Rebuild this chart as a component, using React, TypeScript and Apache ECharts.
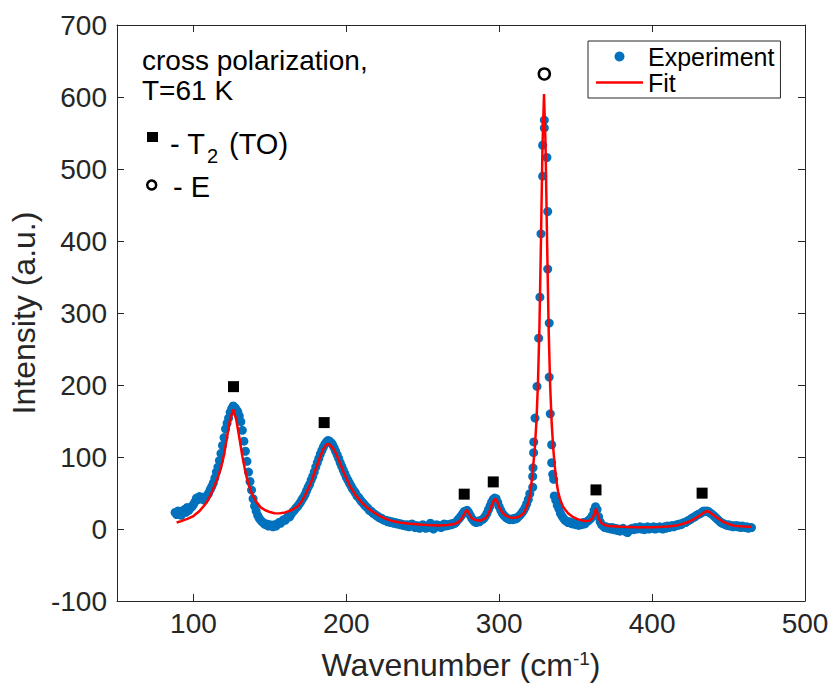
import React, { useEffect, useRef } from "react";
import * as echarts from "echarts";

// ---- axis ranges and ticks ----
const xMin = 50;
const xMax = 500;
const xTicks = [100, 200, 300, 400, 500];
const yMin = -100;
const yMax = 700;
const yStep = 100;

// ---- experimental points: uniform 1 cm-1 steps (segment A), explicit main-peak points, segment B ----
const expStartA = 88;
const expA = [
  23, 20, 25, 22, 19, 24, 27, 23, 30, 26, // 88-97
  29, 31, 34, 38, 43, 41, 45, 42, 44, 40, // 98-107
  43, 47, 50, 55, 59, 64, 71, 79, 86, 95, // 108-117
  105, 116, 127, 139, 147, 154, 162, 167, 171, 169, // 118-127
  166, 163, 157, 149, 137, 122, 108, 94, 79, 66, // 128-137
  54, 42, 32, 25, 19, 15, 12, 10, 8, 6, // 138-147
  7, 4, 6, 5, 3, 6, 4, 7, 9, 8, // 148-157
  11, 13, 12, 15, 18, 17, 21, 24, 26, 29, // 158-167
  31, 34, 37, 41, 44, 48, 53, 58, 62, 68, // 168-177
  73, 79, 86, 92, 98, 104, 109, 114, 118, 121, // 178-187
  123, 122, 120, 117, 113, 108, 103, 98, 92, 87, // 188-197
  82, 77, 72, 68, 64, 60, 56, 53, 50, 46, // 198-207
  44, 41, 38, 36, 33, 31, 29, 26, 25, 23, // 208-217
  21, 20, 18, 17, 15, 15, 13, 12, 12, 10, // 218-227
  11, 9, 10, 8, 9, 7, 8, 6, 7, 5, // 228-237
  6, 4, 6, 3, 5, 7, 4, 2, 5, 3, // 238-247
  1, 4, 6, 3, 1, 4, 2, 8, 3, 0, // 248-257
  4, 6, 3, 5, 2, 4, 7, 4, 6, 5, // 258-267
  7, 6, 8, 8, 10, 13, 15, 18, 21, 24, // 268-277
  25, 26, 23, 19, 15, 12, 10, 9, 11, 10, // 278-287
  12, 13, 15, 18, 22, 27, 32, 37, 41, 43, // 288-297
  42, 37, 31, 26, 22, 19, 17, 15, 14, 13, // 298-307
  14, 13, 15, 14, 16, 18, 20, 23, 26, 30, // 308-317
  35, 41, 49, // 318-320
];
const expPeak: [number, number][] = [
  [321.9, 58], [321.9, 73], [322.1, 85], [322.5, 106], [322.6, 121],
  [323.4, 154], [324.7, 198], [325.8, 265], [326.6, 322], [327.3, 410],
  [328.4, 490], [328.4, 533], [329.5, 557], [329.5, 568], [331.2, 516],
  [331.7, 441], [331.7, 361], [332.7, 286], [332.7, 211], [333.4, 160],
  [334.3, 117], [334.3, 92], [335.0, 76], [335.6, 69], [336.0, 46],
];
const expStartB = 337;
const expB = [
  40, 33, 28, 22, 18, 15, 12, 11, 9, 10, // 337-346
  8, 7, 9, 6, 7, 5, 8, 6, 9, 7, // 347-356
  10, 11, 13, 15, 19, 26, 31, 27, 17, 10, // 357-366
  6, 4, 2, 3, 1, 2, 0, 2, -1, 1, // 367-376
  -2, 0, -3, -1, 1, -2, -4, -5, -2, 0, // 377-386
  1, -1, 2, 0, 1, 3, 0, 2, -1, 1, // 387-396
  3, 0, 2, 1, 3, 0, 2, 1, 3, 2, // 397-406
  0, 3, 1, 4, 2, 3, 5, 3, 4, 6, // 407-416
  5, 7, 6, 8, 9, 9, 11, 12, 13, 15, // 417-426
  16, 17, 19, 20, 21, 22, 24, 25, 24, 25, // 427-436
  24, 22, 21, 19, 17, 15, 13, 11, 9, 8, // 437-446
  7, 6, 5, 6, 4, 5, 3, 4, 5, 3, // 447-456
  4, 2, 4, 3, 2, 3, 1, 2, 2, // 457-465
];

// ---- fit curve ----
const fitCurve: [number, number][] = [
  [89, 9], [92, 11], [96, 14], [100, 18], [104, 25], [108, 35], [111, 46], [114, 61],
  [116, 72], [118, 85], [120, 103], [122, 128], [124, 152], [126, 166], [128, 152],
  [130, 127], [132, 101], [134, 79], [136, 62], [138, 50], [141, 38], [144, 30],
  [147, 26], [150, 23.5], [153, 22], [156, 21.7], [160, 23], [164, 26], [168, 31],
  [171, 39], [174, 51], [177, 65], [180, 83], [183, 101], [185, 111], [187, 117.5],
  [188, 118], [189, 117.5], [191, 113], [193, 106], [195, 96], [198, 80], [202, 61],
  [206, 47], [210, 37], [214, 29], [218, 23], [222, 18], [226, 14], [230, 11],
  [235, 9], [240, 7.5], [250, 6], [260, 5], [266, 5.5], [270, 6.5], [273, 9],
  [275, 13], [277, 20], [278.7, 27], [280, 22], [282, 15], [285, 12], [288, 11.5],
  [291, 15], [293, 21], [295, 32], [296.3, 39], [297.4, 42], [298.5, 39], [300, 30],
  [302, 23], [304, 19], [307, 16], [310, 15.5], [313, 17], [316, 22], [318, 30],
  [320, 45], [321, 62], [322, 82], [323.3, 113], [324.3, 148], [325.3, 200],
  [326.3, 280], [327.3, 400], [328.3, 533], [329.3, 604], [330.3, 533], [331.3, 400],
  [332.3, 280], [333.3, 200], [334.3, 148], [335.3, 113], [336.3, 88], [337.3, 68],
  [338.5, 52], [340, 40], [342, 30], [345, 22], [348, 17], [352, 13], [356, 11],
  [359, 11.5], [361, 15], [362.3, 21], [363.3, 28.5], [364.3, 21], [365.5, 13],
  [367, 8], [369, 5.5], [372, 4], [380, 3], [390, 2.5], [400, 2.5], [410, 3.5],
  [416, 5], [420, 7], [424, 10], [428, 14.5], [431, 18.5], [434, 23], [436, 25],
  [438, 23], [440, 19.5], [442, 16.5], [444, 13.5], [447, 9.5], [450, 7], [453, 5],
  [456, 4], [460, 3.5], [465, 3],
];

// ---- mode markers ----
const t2Markers: [number, number][] = [
  [126.2, 197.7], [185.5, 147.8], [277.1, 48.4], [296.1, 65.4], [363.3, 54.3], [432.7, 49.8],
];
const eMarkers: [number, number][] = [[329.5, 632]];

const FONT = '"Liberation Sans", Arial, Helvetica, sans-serif';
const AXIS = "#262626";
const BLUE = "#0072BD";
const RED = "#FF0000";

export default function App() {
  const ref = useRef<HTMLDivElement>(null);

  useEffect(() => {
    if (!ref.current) return;
    const chart = echarts.init(ref.current, null, { renderer: "svg" });

    const expData: [number, number][] = [
      ...expA.map((y, i) => [expStartA + i, y] as [number, number]),
      ...expPeak,
      ...expB.map((y, i) => [expStartB + i, y] as [number, number]),
    ];

    const axisLine = { show: true, onZero: false, lineStyle: { color: AXIS, width: 1 } };

    const option: any = {
      animation: false,
      backgroundColor: "#ffffff",
      grid: { left: 116, right: 27, top: 25, bottom: 84, containLabel: false },
      legend: {
        orient: "vertical",
        left: 588,
        top: 41,
        padding: [3, 6, 3, 8],
        itemGap: 1,
        itemWidth: 47,
        itemHeight: 10,
        itemTextGap: 5,
        borderColor: AXIS,
        borderWidth: 1,
        backgroundColor: "#ffffff",
        selectedMode: false,
        textStyle: { fontSize: 25, color: "#000", fontFamily: FONT },
        data: [
          { name: "Experiment", icon: "circle" },
          { name: "Fit", icon: "path://M0,0 H47 V2.5 H0 Z" },
        ],
      },
      xAxis: [
        {
          type: "value",
          min: xMin,
          max: xMax,
          position: "bottom",
          axisLine,
          axisTick: { show: true, inside: true, length: 7, customValues: xTicks, lineStyle: { color: AXIS } },
          axisLabel: { customValues: xTicks, fontSize: 28, color: AXIS, margin: 8, fontFamily: FONT },
          splitLine: { show: false },
          name: "Wavenumber (cm{sup|-1})",
          nameLocation: "middle",
          nameGap: 48,
          nameTextStyle: {
            fontSize: 32,
            lineHeight: 32,
            color: AXIS,
            fontFamily: FONT,
            rich: { sup: { fontSize: 19, lineHeight: 19, verticalAlign: "top", color: AXIS, fontFamily: FONT } },
          },
        },
        {
          type: "value",
          min: xMin,
          max: xMax,
          position: "top",
          axisLine,
          axisTick: { show: true, inside: true, length: 7, customValues: xTicks, lineStyle: { color: AXIS } },
          axisLabel: { show: false },
          splitLine: { show: false },
        },
      ],
      yAxis: [
        {
          type: "value",
          min: yMin,
          max: yMax,
          interval: yStep,
          position: "left",
          axisLine,
          axisTick: { show: true, inside: true, length: 7, lineStyle: { color: AXIS } },
          axisLabel: { fontSize: 28, color: AXIS, margin: 10, fontFamily: FONT },
          splitLine: { show: false },
          name: "Intensity (a.u.)",
          nameLocation: "middle",
          nameGap: 77,
          nameRotate: 90,
          nameTextStyle: { fontSize: 32, color: AXIS, fontFamily: FONT },
        },
        {
          type: "value",
          min: yMin,
          max: yMax,
          interval: yStep,
          position: "right",
          axisLine,
          axisTick: { show: true, inside: true, length: 7, lineStyle: { color: AXIS } },
          axisLabel: { show: false },
          splitLine: { show: false },
        },
      ],
      series: [
        {
          name: "Experiment",
          type: "scatter",
          xAxisIndex: 0,
          yAxisIndex: 0,
          data: expData,
          symbol: "circle",
          symbolSize: 9,
          itemStyle: { color: BLUE, opacity: 1 },
          z: 2,
        },
        {
          name: "Fit",
          type: "line",
          xAxisIndex: 0,
          yAxisIndex: 0,
          data: fitCurve,
          showSymbol: false,
          symbol: "none",
          lineStyle: { color: RED, width: 2.5 },
          itemStyle: { color: RED },
          z: 3,
        },
        {
          name: "T2 (TO)",
          type: "scatter",
          data: t2Markers,
          symbol: "rect",
          symbolSize: 11,
          itemStyle: { color: "#000", opacity: 1 },
          z: 4,
        },
        {
          name: "E",
          type: "scatter",
          data: eMarkers,
          symbol: "circle",
          symbolSize: 11,
          itemStyle: { color: "rgba(255,255,255,0)", borderColor: "#000", borderWidth: 2.5, opacity: 1 },
          z: 4,
        },
      ],
      graphic: [
        {
          type: "text",
          x: 142,
          y: 60.5,
          style: { text: "cross polarization,", fontSize: 28, fontFamily: FONT, fill: "#000", verticalAlign: "middle" },
        },
        {
          type: "text",
          x: 142,
          y: 90.5,
          style: { text: "T=61 K", fontSize: 28, fontFamily: FONT, fill: "#000", verticalAlign: "middle" },
        },
        { type: "rect", shape: { x: 147, y: 132, width: 11, height: 10 }, style: { fill: "#000" } },
        {
          type: "text",
          x: 170,
          y: 144,
          style: { text: "- T", fontSize: 29, fontFamily: FONT, fill: "#000", verticalAlign: "middle" },
        },
        {
          type: "text",
          x: 207,
          y: 156,
          style: { text: "2", fontSize: 20, fontFamily: FONT, fill: "#000", verticalAlign: "middle" },
        },
        {
          type: "text",
          x: 229,
          y: 144,
          style: { text: "(TO)", fontSize: 29, fontFamily: FONT, fill: "#000", verticalAlign: "middle" },
        },
        {
          type: "circle",
          shape: { cx: 151.7, cy: 185, r: 4.5 },
          style: { fill: "#fff", stroke: "#000", lineWidth: 2.5 },
        },
        {
          type: "text",
          x: 173,
          y: 187,
          style: { text: "- E", fontSize: 29, fontFamily: FONT, fill: "#000", verticalAlign: "middle" },
        },
      ],
    };

    chart.setOption(option);
    return () => chart.dispose();
  }, []);

  return (
    <div
      ref={ref}
      style={{ position: "fixed", left: 0, top: 0, width: 832, height: 686, background: "#fff" }}
    />
  );
}
